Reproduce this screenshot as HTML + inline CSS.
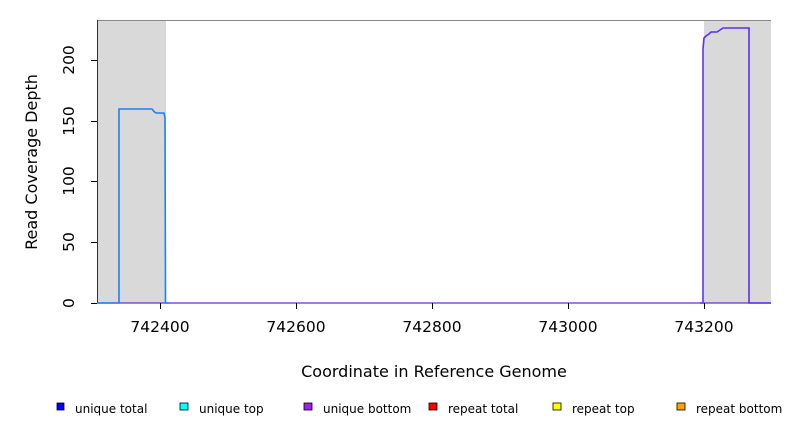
<!DOCTYPE html>
<html><head><style>body{margin:0;background:#fff}svg{display:block}</style></head><body>
<svg width="792" height="432" xmlns="http://www.w3.org/2000/svg" font-family="DejaVu Sans, Liberation Sans, sans-serif">
<rect width="792" height="432" fill="#fff"/>
<rect x="97" y="20" width="69" height="283" fill="#d9d9d9"/>
<rect x="704" y="20" width="67" height="283" fill="#d9d9d9"/>
<line x1="97" y1="20.5" x2="771" y2="20.5" stroke="#888" stroke-width="1"/>
<line x1="97.5" y1="20" x2="97.5" y2="303" stroke="#333" stroke-width="1"/>
<line x1="97" y1="303" x2="771" y2="303" stroke="#6a30c8" stroke-width="1.3"/>
<polyline fill="none" stroke="#1e7fff" stroke-width="1.6" points="97,303 119,303 119,109 152,109 154,111.5 156,113 164,113 165,118 165.5,303 170,303"/>
<polyline fill="none" stroke="#5a2ff0" stroke-width="1.6" points="700,303 703,303 703,49 704,38 706,36 709,34 711,32 717,32 720,30 723,28 749,28 749,303 771,303"/>
<g stroke="#000" stroke-width="1">
<line x1="91" y1="303.5" x2="97" y2="303.5"/><line x1="91" y1="242.5" x2="97" y2="242.5"/><line x1="91" y1="181.5" x2="97" y2="181.5"/><line x1="91" y1="121.5" x2="97" y2="121.5"/><line x1="91" y1="60.5" x2="97" y2="60.5"/>
<line x1="160.5" y1="303" x2="160.5" y2="309"/><line x1="296.5" y1="303" x2="296.5" y2="309"/><line x1="432.5" y1="303" x2="432.5" y2="309"/><line x1="568.5" y1="303" x2="568.5" y2="309"/><line x1="704.5" y1="303" x2="704.5" y2="309"/>
</g>
<g font-size="15.5" text-anchor="middle" fill="#000">
<text transform="translate(69,303) rotate(-90)" dy="5">0</text>
<text transform="translate(69,242) rotate(-90)" dy="5">50</text>
<text transform="translate(69,181) rotate(-90)" dy="5">100</text>
<text transform="translate(69,121) rotate(-90)" dy="5">150</text>
<text transform="translate(69,60) rotate(-90)" dy="5">200</text>
<text x="160" y="332">742400</text><text x="296" y="332">742600</text><text x="432" y="332">742800</text><text x="568" y="332">743000</text><text x="704" y="332">743200</text>
<text x="434" y="377" font-size="16">Coordinate in Reference Genome</text>
<text transform="translate(37,162) rotate(-90)" font-size="16">Read Coverage Depth</text>
</g>
<g font-size="12" fill="#000" stroke-width="0.8">
<rect x="57" y="403" width="7" height="7" fill="#0000ff" stroke="#000"/><text x="75" y="413">unique total</text>
<rect x="180" y="403" width="8" height="7" fill="#00ffff" stroke="#000"/><text x="199" y="413">unique top</text>
<rect x="304" y="403" width="8" height="7" fill="#a020f0" stroke="#000"/><text x="323" y="413">unique bottom</text>
<rect x="429" y="403" width="8" height="7" fill="#ff0000" stroke="#000"/><text x="448" y="413">repeat total</text>
<rect x="553" y="403" width="8" height="7" fill="#ffff00" stroke="#000"/><text x="572" y="413">repeat top</text>
<rect x="677" y="403" width="8" height="7" fill="#ffa500" stroke="#000"/><text x="696" y="413">repeat bottom</text>
</g>
</svg>
</body></html>
